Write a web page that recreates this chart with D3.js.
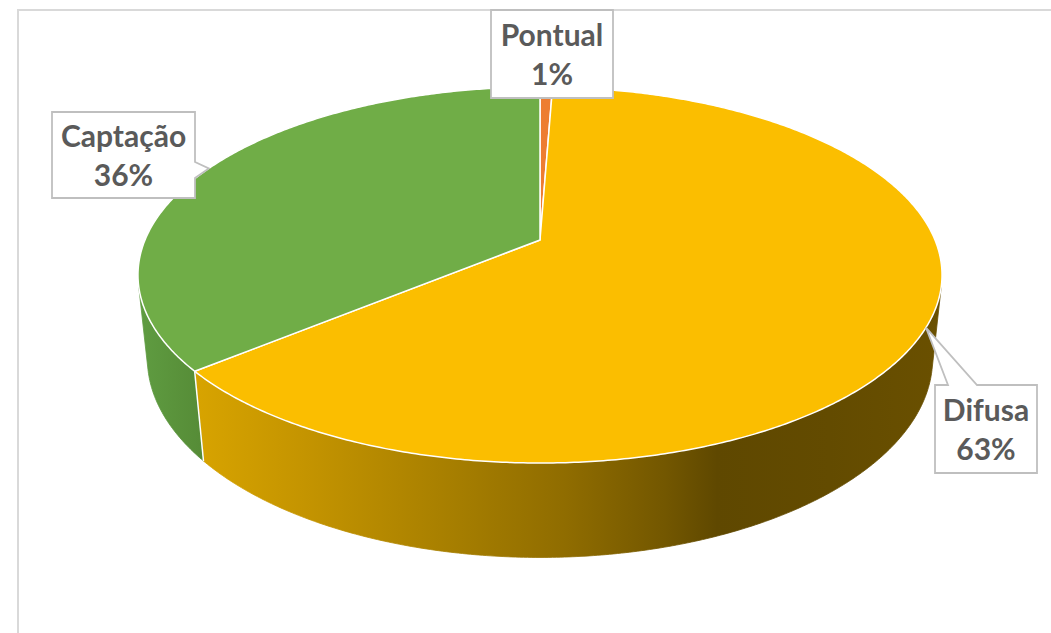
<!DOCTYPE html>
<html><head><meta charset="utf-8">
<script src="https://cdn.jsdelivr.net/npm/d3@7"></script>
<style>html,body{margin:0;padding:0;background:#fff;}svg{display:block;}</style>
</head><body>
<svg id="chart" width="1051" height="633"></svg>
<script>
// ---- data ----
const categories = ["Pontual", "Difusa", "Captação"];
const values = [0.6, 63.4, 36.0];
const topColors = ["#ED7D31", "#FBBE00", "#70AD47"];
const sideStops = [
  [["0", "#C8641E"], ["1", "#7A3A0E"]],
  [["0", "#D8A400"], ["0.15", "#C49400"], ["0.35", "#A67E00"], ["0.5", "#8F6C00"], ["0.63", "#735700"], ["0.7", "#5F4800"], ["0.85", "#634B00"], ["1", "#6A5000"]],
  [["0", "#5F9C41"], ["1", "#568C37"]]
];

// ---- layout / projection ----
const W = 1051, H = 633;
const cx = 540, cy = 240, k = 395, sa = 0.4595, ca = 0.888, D = 4.77, hgt = 0.24;
function proj(phi, Y) {
  const X = Math.sin(phi), Z = -Math.cos(phi);
  const depth = Z * ca + Y * sa;
  const s = D / (D - depth);
  return [cx + k * X * s, cy + k * (Z * sa - Y * ca) * s];
}
const svg = d3.select("#chart");
const defs = svg.append("defs");

// chart frame
svg.append("rect").attr("x", 18).attr("y", 10).attr("width", 1200).attr("height", 800)
  .attr("fill", "#fff").attr("stroke", "#D9D9D9").attr("stroke-width", 2);

const arcs = d3.pie().sort(null).value(d => d)(values);
const line = d3.line();
const step = Math.PI / 360;
function arcPts(a0, a1, Y) {
  const n = Math.max(2, Math.ceil(Math.abs(a1 - a0) / step));
  return d3.range(n + 1).map(i => proj(a0 + (a1 - a0) * i / n, Y));
}

// gradients for sides
sideStops.forEach((stops, i) => {
  const g = defs.append("linearGradient").attr("id", "side" + i)
    .attr("gradientUnits", "userSpaceOnUse");
  if (i === 2) g.attr("x1", 140).attr("x2", 200);
  else g.attr("x1", 193).attr("x2", 942);
  g.attr("y1", 0).attr("y2", 0);
  stops.forEach(s => g.append("stop").attr("offset", s[0]).attr("stop-color", s[1]));
});

// visible side range
const Zs = 1 / (D * ca);
const phiA = Math.acos(-Zs), phiB = 2 * Math.PI - phiA;

const sides = svg.append("g");
arcs.forEach((a, i) => {
  const a0 = Math.max(a.startAngle, phiA), a1 = Math.min(a.endAngle, phiB);
  if (a0 >= a1) return;
  const pts = arcPts(a0, a1, 0).concat(arcPts(a1, a0, -hgt));
  sides.append("path").attr("d", line(pts) + "Z").attr("fill", `url(#side${i})`)
    .attr("stroke", `url(#side${i})`).attr("stroke-width", 0.8);
});
// seams between side faces
arcs.forEach(a => {
  const ang = a.startAngle;
  if (ang > phiA && ang < phiB) {
    sides.append("path").attr("d", line([proj(ang, 0), proj(ang, -hgt)]))
      .attr("stroke", "#fff").attr("stroke-width", 1.5).attr("fill", "none");
  }
});

// top faces
const tops = svg.append("g");
arcs.forEach((a, i) => {
  const pts = [[cx, cy]].concat(arcPts(a.startAngle, a.endAngle, 0));
  tops.append("path").attr("d", line(pts) + "Z").attr("fill", topColors[i])
    .attr("stroke", "#fff").attr("stroke-width", 1.5).attr("stroke-linejoin", "round");
});

// labels (callouts)
const boxes = [
  {x: 491, y: 10, w: 122, h: 88, wedge: null},
  {x: 935, y: 385, w: 102, h: 88, wedge: "top", w0: 948, w1: 977},
  {x: 52, y: 112, w: 143, h: 86, wedge: "right", w0: 162, w1: 178}
];
const lab = svg.append("g");
arcs.forEach((a, i) => {
  const b = boxes[i];
  const mid = (a.startAngle + a.endAngle) / 2;
  const tip = proj(mid, 0);
  let p;
  const x0 = b.x, y0 = b.y, x1 = b.x + b.w, y1 = b.y + b.h;
  if (b.wedge === "top") {
    p = [[x0, y0], [b.w0, y0], tip, [b.w1, y0], [x1, y0], [x1, y1], [x0, y1]];
  } else if (b.wedge === "right") {
    p = [[x0, y0], [x1, y0], [x1, b.w0], tip, [x1, b.w1], [x1, y1], [x0, y1]];
  } else {
    p = [[x0, y0], [x1, y0], [x1, y1], [x0, y1]];
  }
  lab.append("path").attr("d", line(p) + "Z").attr("fill", "#fff")
    .attr("stroke", "#BFBFBF").attr("stroke-width", 1.8).attr("stroke-linejoin", "miter");
  const tcx = b.x + b.w / 2, tcy = b.y + b.h / 2;
  const t = lab.append("text").attr("text-anchor", "middle")
    .attr("font-family", "Lato, 'Open Sans', sans-serif").attr("font-weight", "bold")
    .attr("font-size", 30).attr("fill", "#5A5A5A");
  t.append("tspan").attr("x", tcx).attr("y", tcy - 19 + 10.5).text(categories[i]);
  t.append("tspan").attr("x", tcx).attr("y", tcy + 20 + 10.5).text(Math.round(values[i]) + "%");
});
</script>
</body></html>
